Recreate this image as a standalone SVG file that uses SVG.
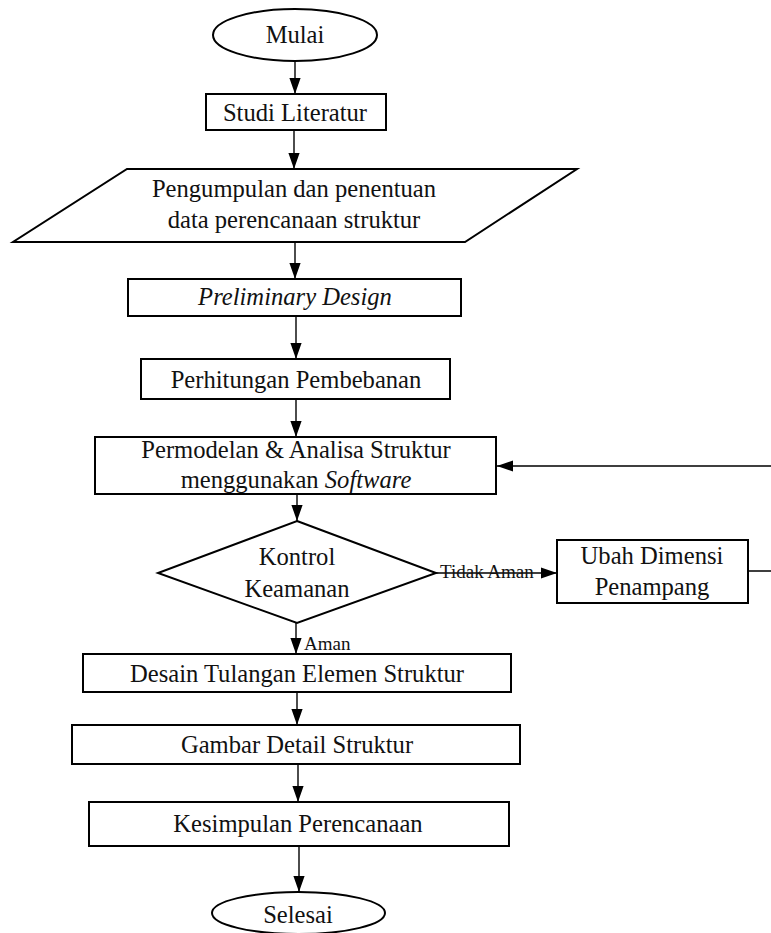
<svg xmlns="http://www.w3.org/2000/svg" width="771" height="933" viewBox="0 0 771 933">
<style>
.n{fill:#fff;stroke:#000;stroke-width:2}
.lbl{font-family:'Liberation Serif','Times New Roman',serif;font-size:24.6px;fill:#111;text-anchor:middle}
.sm{font-family:'Liberation Serif','Times New Roman',serif;font-size:19px;fill:#111}
.c{fill:none;stroke:#000;stroke-width:1.4}
</style>
<defs>
<marker id="ah" viewBox="0 0 10 10" refX="10" refY="5" markerWidth="16" markerHeight="16" markerUnits="userSpaceOnUse" orient="auto">
<path d="M0,1.5L10,5L0,8.5z" fill="#000"/>
</marker>
</defs>
<rect width="771" height="933" fill="#fff"/>
<g id="connectors">
<path class="c" d="M295,61V94" marker-end="url(#ah)"/>
<path class="c" d="M294,130V169" marker-end="url(#ah)"/>
<path class="c" d="M295,242V279" marker-end="url(#ah)"/>
<path class="c" d="M296,316V359" marker-end="url(#ah)"/>
<path class="c" d="M296,399V437" marker-end="url(#ah)"/>
<path class="c" d="M297,494V521" marker-end="url(#ah)"/>
<path class="c" d="M436,573H557" marker-end="url(#ah)"/>
<path class="c" d="M748,571H800V466H497" marker-end="url(#ah)"/>
<path class="c" d="M296,623V654" marker-end="url(#ah)"/>
<path class="c" d="M297,692V725" marker-end="url(#ah)"/>
<path class="c" d="M298,764V802" marker-end="url(#ah)"/>
<path class="c" d="M299,846V892" marker-end="url(#ah)"/>
<text class="sm" x="440" y="578">Tidak Aman</text>
<text class="sm" x="304" y="650">Aman</text>
</g>
<g id="mulai">
<ellipse class="n" cx="295" cy="35" rx="82" ry="26"/>
<text class="lbl" x="295" y="43">Mulai</text>
</g>
<g id="studi">
<rect class="n" x="206" y="94" width="180" height="36"/>
<text class="lbl" x="295" y="121">Studi Literatur</text>
</g>
<g id="pengumpulan">
<polygon class="n" points="127,169 577,169 465,242 13,242"/>
<text class="lbl" x="294" y="197">Pengumpulan dan penentuan</text>
<text class="lbl" x="294" y="228">data perencanaan struktur</text>
</g>
<g id="preliminary">
<rect class="n" x="128" y="279" width="333" height="37"/>
<text class="lbl" x="295" y="305" font-style="italic">Preliminary Design</text>
</g>
<g id="perhitungan">
<rect class="n" x="141" y="359" width="309" height="40"/>
<text class="lbl" x="296" y="388">Perhitungan Pembebanan</text>
</g>
<g id="permodelan">
<rect class="n" x="95" y="437" width="401" height="57"/>
<text class="lbl" x="296" y="458">Permodelan &amp; Analisa Struktur</text>
<text class="lbl" x="296" y="488">menggunakan <tspan font-style="italic">Software</tspan></text>
</g>
<g id="kontrol">
<polygon class="n" points="297,521 436,573 297,623 158,573"/>
<text class="lbl" x="297" y="565">Kontrol</text>
<text class="lbl" x="297" y="597">Keamanan</text>
</g>
<g id="ubah">
<rect class="n" x="557" y="540" width="191" height="63"/>
<text class="lbl" x="652" y="564">Ubah Dimensi</text>
<text class="lbl" x="652" y="595">Penampang</text>
</g>
<g id="desain">
<rect class="n" x="83" y="654" width="428" height="38"/>
<text class="lbl" x="297" y="682">Desain Tulangan Elemen Struktur</text>
</g>
<g id="gambar">
<rect class="n" x="72" y="725" width="448" height="39"/>
<text class="lbl" x="297" y="753">Gambar Detail Struktur</text>
</g>
<g id="kesimpulan">
<rect class="n" x="89" y="802" width="420" height="44"/>
<text class="lbl" x="298" y="832">Kesimpulan Perencanaan</text>
</g>
<g id="selesai">
<ellipse class="n" cx="298.5" cy="913" rx="86.5" ry="21"/>
<text class="lbl" x="298" y="923">Selesai</text>
</g>
</svg>
